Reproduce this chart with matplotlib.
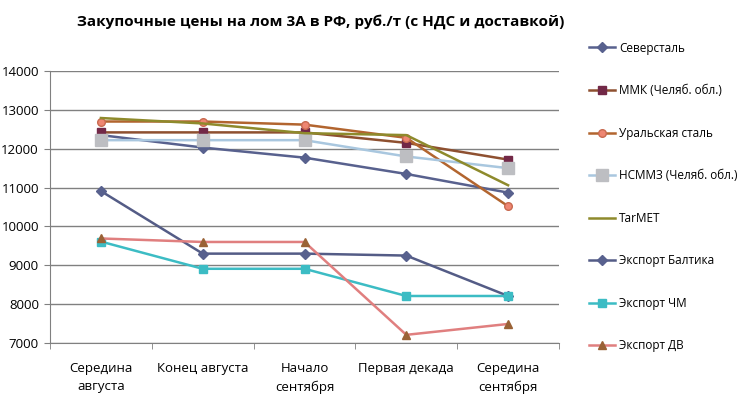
import matplotlib
matplotlib.use("Agg")
import matplotlib.pyplot as plt

plt.rcParams['font.family'] = ['Open Sans', 'DejaVu Sans']

categories = ["Середина\nавгуста", "Конец августа", "Начало\nсентября", "Первая декада", "Середина\nсентября"]

severstal = [12350, 12030, 11770, 11350, 10870]
mmk = [12420, 12420, 12420, 12150, 11720]
ural = [12700, 12700, 12620, 12280, 10520]
nsmmz = [12220, 12220, 12220, 11800, 11500]
tagmet = [12790, 12650, 12400, 12350, 11060]
export_baltika = [10910, 9300, 9300, 9250, 8210]
export_chm = [9610, 8910, 8910, 8210, 8210]
export_dv = [9690, 9600, 9600, 7210, 7490]

series = [
    ("Северсталь", severstal, dict(color="#58618E", marker="D", mfc="#58618E", mec="#58618E", ms=5)),
    ("ММК (Челяб. обл.)", mmk, dict(color="#8E5030", marker="s", mfc="#722847", mec="#722847", ms=6)),
    ("Уральская сталь", ural, dict(color="#B2652F", marker="o", mfc="#EE8672", mec="#C86A50", ms=5.5)),
    ("НСММЗ (Челяб. обл.)", nsmmz, dict(color="#A9C7DF", marker="s", mfc="#BDBEC2", mec="#BDBEC2", ms=9)),
    ("TarMET", tagmet, dict(color="#8E8A2C", marker=None)),
    ("Экспорт Балтика", export_baltika, dict(color="#545C86", marker="D", mfc="#58618E", mec="#58618E", ms=5)),
    ("Экспорт ЧМ", export_chm, dict(color="#3CBCC4", marker="s", mfc="#3CBCC4", mec="#3CBCC4", ms=6)),
    ("Экспорт ДВ", export_dv, dict(color="#E07F7F", marker="^", mfc="#9A6236", mec="#9A6236", ms=6)),
]

fig = plt.figure(figsize=(7.52, 3.97), dpi=100)
ax = fig.add_axes([50/752, 1-343/397, (559-50)/752, (343-71)/397])

x = list(range(len(categories)))
for name, vals, st in series:
    ax.plot(x, vals, label=name, lw=1.8, **st)

ax.set_xlim(-0.5, len(categories) - 0.5)
ax.set_ylim(7000, 14000)
ax.set_yticks(range(7000, 14001, 1000))
ax.set_yticklabels([str(v) for v in range(7000, 14001, 1000)], fontsize=9.5)
ax.set_xticks(x)
ax.set_xticklabels(categories, fontsize=9.5, linespacing=1.5)
ax.set_xticks([i + 0.5 for i in range(-1, len(categories))], minor=True)
ax.tick_params(axis='x', which='major', length=0, pad=14)
ax.tick_params(axis='x', which='minor', length=4, direction='out', color='#808080')
ax.tick_params(axis='y', length=4, direction='out', color='#808080', pad=4)
ax.grid(axis='y', color='#808080', lw=1)
ax.set_axisbelow(True)
for s in ['top', 'right']:
    ax.spines[s].set_visible(False)
for s in ['left', 'bottom']:
    ax.spines[s].set_color('#808080')

fig.text(321/752, 1-22/397, "Закупочные цены на лом 3А в РФ, руб./т (с НДС и доставкой)",
         ha='center', va='center', fontsize=11, fontweight='bold')

leg = fig.legend(loc='upper left', bbox_to_anchor=(578/752, 1-31/397), frameon=False,
                 fontsize=8.5, labelspacing=2.5, handlelength=2.2, handletextpad=0.4)

fig.savefig("out.png", dpi=100)
